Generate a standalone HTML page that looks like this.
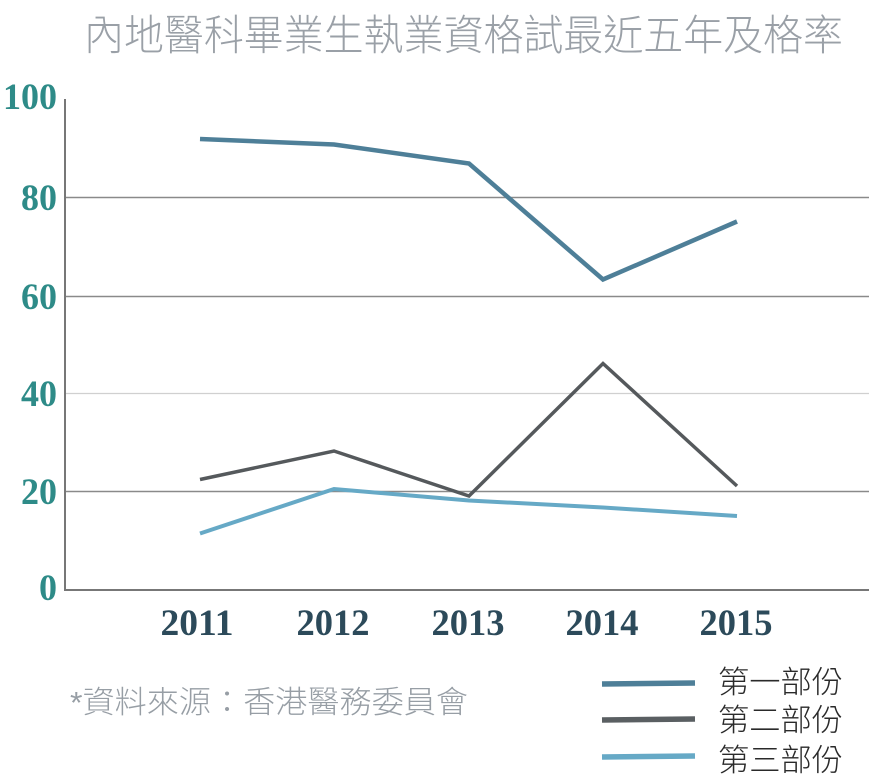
<!DOCTYPE html>
<html>
<head>
<meta charset="utf-8">
<style>
  html, body { margin:0; padding:0; background:#ffffff; }
  body { width:877px; height:783px; overflow:hidden; }
  svg { display:block; }
  .cjk { font-family: "Liberation Sans", "Noto Sans CJK TC", "Noto Sans CJK SC", sans-serif; font-weight: 300; }
  .num { font-family: "Liberation Serif", serif; font-weight: bold; }
</style>
</head>
<body>
<svg width="877" height="783" viewBox="0 0 877 783" xmlns="http://www.w3.org/2000/svg">
  <rect width="877" height="783" fill="#ffffff"/>

  <!-- Title -->
  <text class="cjk" x="84" y="50" font-size="42" fill="#9aa0a7" textLength="759" lengthAdjust="spacingAndGlyphs">內地醫科畢業生執業資格試最近五年及格率</text>

  <!-- Gridlines -->
  <line x1="65" y1="197.5" x2="869" y2="197.5" stroke="#8a8a8a" stroke-width="1.5"/>
  <line x1="65" y1="296.5" x2="869" y2="296.5" stroke="#8a8a8a" stroke-width="1.5"/>
  <line x1="65" y1="393.5" x2="869" y2="393.5" stroke="#d0d0d0" stroke-width="1.2"/>
  <line x1="65" y1="491.5" x2="869" y2="491.5" stroke="#8a8a8a" stroke-width="1.5"/>

  <!-- Axes -->
  <line x1="65" y1="99" x2="65" y2="590" stroke="#777777" stroke-width="2"/>
  <line x1="64" y1="590" x2="869" y2="590" stroke="#777777" stroke-width="2"/>

  <!-- Y labels -->
  <g class="num" font-size="37" fill="#2e8b88" text-anchor="end">
    <text x="57" y="109" textLength="54" lengthAdjust="spacingAndGlyphs">100</text>
    <text x="57" y="210" textLength="36" lengthAdjust="spacingAndGlyphs">80</text>
    <text x="57" y="309" textLength="36" lengthAdjust="spacingAndGlyphs">60</text>
    <text x="57" y="406" textLength="36" lengthAdjust="spacingAndGlyphs">40</text>
    <text x="57" y="504" textLength="36" lengthAdjust="spacingAndGlyphs">20</text>
    <text x="57" y="600" textLength="18" lengthAdjust="spacingAndGlyphs">0</text>
  </g>

  <!-- X labels -->
  <g class="num" font-size="37" fill="#2c4a5a" text-anchor="middle">
    <text x="197" y="635" textLength="73" lengthAdjust="spacingAndGlyphs">2011</text>
    <text x="333" y="635" textLength="73" lengthAdjust="spacingAndGlyphs">2012</text>
    <text x="468" y="635" textLength="73" lengthAdjust="spacingAndGlyphs">2013</text>
    <text x="602" y="635" textLength="73" lengthAdjust="spacingAndGlyphs">2014</text>
    <text x="736" y="635" textLength="73" lengthAdjust="spacingAndGlyphs">2015</text>
  </g>

  <!-- Series 1 -->
  <polyline points="200,139 334,144.5 469,163.5 603,279.5 737,221.5" fill="none" stroke="#4e7f98" stroke-width="4.5" stroke-linejoin="miter"/>
  <!-- Series 2 -->
  <polyline points="200,479.5 334,451 469,496 603,363.5 737,486" fill="none" stroke="#55595c" stroke-width="3.5" stroke-linejoin="miter"/>
  <!-- Series 3 -->
  <polyline points="200,533.5 334,489 469,500.5 603,507.5 737,516" fill="none" stroke="#66a9c6" stroke-width="4" stroke-linejoin="miter"/>

  <!-- Source -->
  <text class="cjk" x="70" y="713" font-size="31" fill="#979ea5" textLength="398" lengthAdjust="spacingAndGlyphs">*資料來源：香港醫務委員會</text>

  <!-- Legend -->
  <line x1="602" y1="684" x2="695" y2="683" stroke="#4e7f98" stroke-width="5.5"/>
  <line x1="602" y1="720" x2="695" y2="719" stroke="#5a5f62" stroke-width="5.5"/>
  <line x1="602" y1="757" x2="695" y2="756" stroke="#66a9c6" stroke-width="5.5"/>
  <g class="cjk" font-size="31" fill="#2a2a2a">
    <text x="718" y="693" textLength="125" lengthAdjust="spacingAndGlyphs">第一部份</text>
    <text x="718" y="731" textLength="125" lengthAdjust="spacingAndGlyphs">第二部份</text>
    <text x="718" y="771" textLength="125" lengthAdjust="spacingAndGlyphs">第三部份</text>
  </g>
</svg>
</body>
</html>
